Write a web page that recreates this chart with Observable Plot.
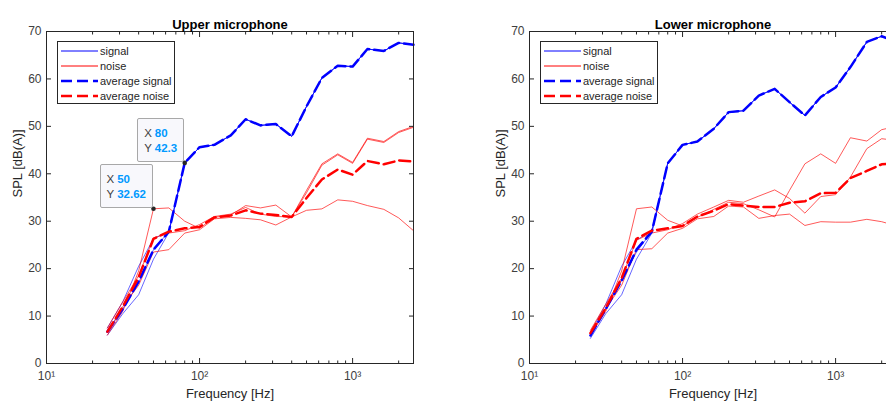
<!DOCTYPE html>
<html>
<head>
<meta charset="utf-8">
<script src="https://cdn.jsdelivr.net/npm/d3@7"></script>
<script src="https://cdn.jsdelivr.net/npm/@observablehq/plot@0.6"></script>
<style>
  html, body { margin: 0; padding: 0; background: #fff; }
  #wrap { position: relative; width: 886px; height: 406px; overflow: hidden; background: #fff;
          font-family: "Liberation Sans", Arial, Helvetica, sans-serif; }
  .panel { position: absolute; top: 0; width: 483px; height: 406px; }
  .panel svg { display: block; }
  .legend { position: absolute; background: #fff; border: 1px solid #262626; box-sizing: border-box; }
  .tip { position: absolute; background: #f8f8fc; border: 1px solid #a8a8a8; border-radius: 2px;
         padding: 7px 6px 6px 6px; font-size: 11.5px; line-height: 14.5px; color: #404040; white-space: nowrap; }
  .tip b { color: #0099ff; font-weight: bold; margin-left: 3px; }
</style>
</head>
<body>
<div id="wrap">
  <div class="panel" id="p1" style="left:0px"></div>
  <div class="panel" id="p2" style="left:483px"></div>
</div>
<script>
// third-octave band centre frequencies [Hz]
const freqs = [25, 31.5, 40, 50, 63, 80, 100, 125, 160, 200, 250, 315, 400, 500, 630, 800, 1000, 1250, 1600, 2000, 2500];

// ---------- Upper microphone ----------
const upperSignal1 = [7.5, 13.0, 20.5, 26.3, 27.8, 42.3, 45.6, 46.1, 48.1, 51.5, 50.2, 50.5, 47.9, 54.2, 60.2, 62.8, 62.6, 66.3, 65.9, 67.6, 67.2];
const upperSignal2 = [6.6, 11.5, 17.0, 24.0, 27.8, 42.3, 45.6, 46.1, 48.1, 51.5, 50.2, 50.5, 47.9, 54.2, 60.2, 62.8, 62.6, 66.3, 65.9, 67.6, 67.2];
const upperSignal3 = [6.0, 10.5, 14.5, 22.0, 27.6, 42.3, 45.6, 46.1, 48.1, 51.5, 50.2, 50.5, 47.9, 54.2, 60.2, 62.8, 62.6, 66.3, 65.9, 67.6, 67.2];
const upperAvgSignal = [6.7, 11.5, 17.3, 24.0, 27.8, 42.3, 45.6, 46.1, 48.1, 51.5, 50.2, 50.5, 47.9, 54.2, 60.2, 62.8, 62.6, 66.3, 65.9, 67.6, 67.2];
const upperNoise1 = [6.0, 11.0, 19.5, 32.62, 32.8, 30.0, 28.5, 30.8, 31.3, 33.3, 32.8, 33.4, 30.9, 36.5, 42.1, 44.2, 42.4, 47.5, 46.8, 48.9, 50.0];
const upperNoise2 = [7.5, 13.0, 18.5, 26.5, 27.5, 28.0, 29.3, 31.0, 31.5, 32.9, 31.5, 31.0, 30.9, 36.0, 41.8, 44.0, 42.2, 47.3, 46.6, 48.7, 49.8];
const upperNoise3 = [6.5, 12.0, 16.5, 23.5, 24.0, 27.5, 28.2, 30.5, 30.8, 30.6, 30.3, 29.2, 30.9, 32.3, 32.6, 34.5, 34.2, 33.3, 32.5, 30.7, 28.0];
const upperAvgNoise = [6.7, 12.0, 18.2, 26.3, 27.8, 28.5, 28.8, 30.8, 31.2, 32.3, 31.6, 31.3, 30.9, 34.9, 38.8, 40.9, 39.8, 42.7, 42.0, 42.8, 42.6];

// ---------- Lower microphone ----------
const lowerSignal1 = [6.5, 12.5, 20.5, 26.0, 28.0, 42.2, 46.1, 46.8, 49.5, 53.0, 53.3, 56.5, 57.9, 55.1, 52.3, 56.2, 58.2, 62.5, 67.8, 69.0, 67.8];
const lowerSignal2 = [6.0, 11.5, 17.5, 23.5, 27.8, 42.2, 46.1, 46.8, 49.5, 53.0, 53.3, 56.5, 57.9, 55.1, 52.3, 56.2, 58.2, 62.5, 67.8, 69.0, 67.8];
const lowerSignal3 = [5.3, 10.5, 14.5, 22.0, 27.5, 42.2, 46.1, 46.8, 49.5, 53.0, 53.3, 56.5, 57.9, 55.1, 52.3, 56.2, 58.2, 62.5, 67.8, 69.0, 67.8];
const lowerAvgSignal = [5.9, 11.5, 17.5, 24.0, 27.8, 42.2, 46.1, 46.8, 49.5, 53.0, 53.3, 56.5, 57.9, 55.1, 52.3, 56.2, 58.2, 62.5, 67.8, 69.0, 67.8];
const lowerNoise1 = [6.0, 11.0, 19.5, 32.62, 33.0, 30.2, 29.0, 30.8, 32.5, 34.0, 33.7, 32.4, 30.9, 36.5, 42.1, 44.2, 42.2, 47.6, 46.9, 49.3, 50.0];
const lowerNoise2 = [7.0, 12.5, 18.0, 26.0, 27.5, 28.2, 29.5, 31.5, 33.0, 34.4, 34.0, 35.3, 36.6, 34.8, 31.7, 35.2, 35.6, 39.3, 45.3, 47.4, 47.0];
const lowerNoise3 = [6.3, 11.5, 16.5, 24.0, 24.2, 27.5, 28.5, 30.5, 31.0, 33.2, 33.0, 30.6, 31.2, 31.5, 29.1, 29.9, 29.8, 29.8, 30.4, 29.9, 29.0];
const lowerAvgNoise = [6.4, 11.7, 18.0, 26.3, 28.0, 28.5, 29.0, 31.0, 32.2, 33.6, 33.3, 33.0, 33.0, 33.9, 34.2, 35.9, 36.0, 39.1, 40.6, 42.0, 42.3];

// data tips (upper microphone)
const tipFreqs = [80, 50];
const tipValues = [42.3, 32.62];

// axis ticks
const yTicks = [0, 10, 20, 30, 40, 50, 60, 70];
const xMajorTicks = [10, 100, 1000];
const xMinorTicks = [20, 30, 40, 50, 60, 70, 80, 90, 200, 300, 400, 500, 600, 700, 800, 900, 2000];
const sup = {1: "\u00b9", 2: "\u00b2", 3: "\u00b3"};

const legendItems = [
  {label: "signal", color: "#0000ff", width: 1, dash: null},
  {label: "noise", color: "#ff0000", width: 1, dash: null},
  {label: "average signal", color: "#0000ff", width: 2.5, dash: "11,5"},
  {label: "average noise", color: "#ff0000", width: 2.5, dash: "11,5"}
];

const W = 483, H = 406, ML = 46, MR = 70, MT = 31, MB = 43;
const AX = "#262626";
const DASH = "11,5";
const FONT = "'Liberation Sans', Arial, Helvetica, sans-serif";

function toRows(series) {
  return series.flatMap((vals, k) => vals.map((v, i) => ({f: freqs[i], v, id: k})));
}
function toPts(vals) { return vals.map((v, i) => ({f: freqs[i], v})); }

function panel(el, title, signals, avgSignal, noises, avgNoise, tips) {
  const chart = Plot.plot({
    width: W, height: H,
    marginLeft: ML, marginRight: MR, marginTop: MT, marginBottom: MB,
    style: {fontFamily: FONT, fontSize: "12px", color: AX, background: "white", overflow: "visible"},
    x: {type: "log", domain: [10, 2500]},
    y: {domain: [0, 70]},
    marks: [
      Plot.line(toRows(signals), {x: "f", y: "v", z: "id", stroke: "#0000ff", strokeWidth: 1, strokeOpacity: 0.6}),
      Plot.line(toRows(noises), {x: "f", y: "v", z: "id", stroke: "#ff0000", strokeWidth: 1, strokeOpacity: 0.65}),
      Plot.line(toPts(avgSignal), {x: "f", y: "v", stroke: "#0000ff", strokeWidth: 2.5, strokeDasharray: DASH}),
      Plot.line(toPts(avgNoise), {x: "f", y: "v", stroke: "#ff0000", strokeWidth: 2.5, strokeDasharray: DASH}),
      Plot.dot(tips, {x: "f", y: "v", r: 2.3, fill: "#262626", stroke: "none"}),
      Plot.frame({stroke: AX, strokeWidth: 1}),
      Plot.axisY({ticks: yTicks, tickSize: -5, tickPadding: 10, label: null, stroke: AX, fill: "#404040", fontSize: 12}),
      Plot.axisY({anchor: "right", ticks: yTicks, tickSize: -5, tickFormat: () => "", label: null, stroke: AX}),
      Plot.axisX({ticks: xMajorTicks, tickSize: -5, tickPadding: 13, label: null, stroke: AX, fill: "#404040", fontSize: 12,
                  tickFormat: d => "10" + sup[Math.round(Math.log10(d))]}),
      Plot.axisX({ticks: xMinorTicks, tickSize: -2.5, tickFormat: () => "", label: null, stroke: AX}),
      Plot.axisX({anchor: "top", ticks: xMajorTicks, tickSize: -5, tickFormat: () => "", label: null, stroke: AX}),
      Plot.axisX({anchor: "top", ticks: xMinorTicks, tickSize: -2.5, tickFormat: () => "", label: null, stroke: AX}),
      Plot.text([title], {text: d => d, frameAnchor: "top", dy: -12, fontWeight: "bold", fontSize: 13, fill: "black"}),
      Plot.text(["Frequency [Hz]"], {text: d => d, frameAnchor: "bottom", dy: 34.5, fontSize: 13, fill: AX}),
      Plot.text(["SPL [dB(A)]"], {text: d => d, frameAnchor: "left", dx: -29, rotate: -90, fontSize: 13, fill: AX})
    ]
  });
  el.appendChild(chart);

  // legend (northwest, inside the axes)
  const lg = document.createElement("div");
  lg.className = "legend";
  lg.style.left = (ML + 10.5) + "px";
  lg.style.top = (MT + 9.5) + "px";
  lg.style.width = "118px";
  lg.style.height = "63px";
  const ns = "http://www.w3.org/2000/svg";
  const svg = document.createElementNS(ns, "svg");
  svg.setAttribute("width", 116); svg.setAttribute("height", 61);
  legendItems.forEach((it, i) => {
    const y = 9 + i * 15;
    const ln = document.createElementNS(ns, "line");
    ln.setAttribute("x1", 3); ln.setAttribute("x2", 40);
    ln.setAttribute("y1", y); ln.setAttribute("y2", y);
    ln.setAttribute("stroke", it.color); ln.setAttribute("stroke-width", it.width);
    if (it.dash) ln.setAttribute("stroke-dasharray", it.dash);
    svg.appendChild(ln);
    const tx = document.createElementNS(ns, "text");
    tx.setAttribute("x", 42); tx.setAttribute("y", y);
    tx.setAttribute("dy", "0.35em");
    tx.setAttribute("font-size", "11px");
    tx.setAttribute("font-family", FONT);
    tx.setAttribute("fill", AX);
    tx.textContent = it.label;
    svg.appendChild(tx);
  });
  lg.appendChild(svg);
  el.appendChild(lg);

  // data tips: box's lower-right corner at the data point
  const sx = chart.scale("x"), sy = chart.scale("y");
  tips.forEach(t => {
    const px = sx.apply(t.f), py = sy.apply(t.v);
    const d = document.createElement("div");
    d.className = "tip";
    d.innerHTML = `<div>X<b>${t.f}</b></div><div>Y<b>${t.v}</b></div>`;
    d.style.right = (W - px) + "px";
    d.style.bottom = (H - py) + "px";
    el.appendChild(d);
  });
}

const upperTips = tipFreqs.map((f, i) => ({f, v: tipValues[i]}));

panel(document.getElementById("p1"), "Upper microphone",
  [upperSignal1, upperSignal2, upperSignal3], upperAvgSignal,
  [upperNoise1, upperNoise2, upperNoise3], upperAvgNoise, upperTips);

panel(document.getElementById("p2"), "Lower microphone",
  [lowerSignal1, lowerSignal2, lowerSignal3], lowerAvgSignal,
  [lowerNoise1, lowerNoise2, lowerNoise3], lowerAvgNoise, []);
</script>
</body>
</html>
